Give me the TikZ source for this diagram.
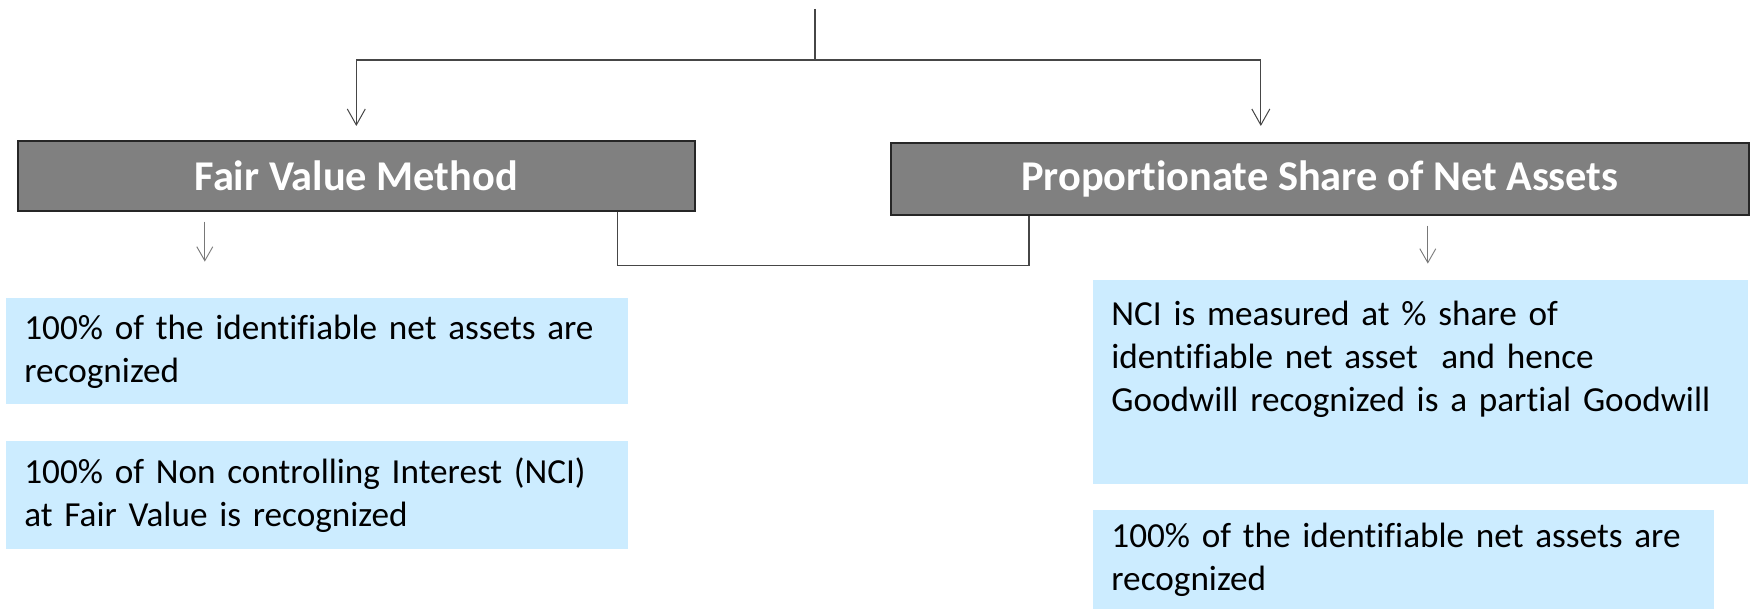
\documentclass[tikz,border=0pt]{standalone}
\usepackage{fontspec}
\setmainfont[Ligatures=NoCommon]{Carlito}
\usetikzlibrary{arrows.meta,positioning,calc}
\definecolor{hdrgray}{RGB}{128,128,128}
\definecolor{hdrline}{RGB}{38,38,38}
\definecolor{lblue}{RGB}{204,236,255}
\definecolor{conn}{RGB}{70,70,70}
\definecolor{conn2}{RGB}{120,120,120}
\tikzset{
  hdr/.style={draw=hdrline, line width=0.8bp, fill=hdrgray, text=white, font=\fontsize{21.2bp}{25bp}\selectfont\bfseries, inner sep=0pt, anchor=north west},
  infobox/.style={fill=lblue, font=\fontsize{17.6bp}{21.5bp}\selectfont, align=left, inner xsep=9bp, inner ysep=0pt, anchor=north west},
  conline/.style={draw=conn, line width=0.6bp},
  arr/.style={conline, -{Straight Barb[length=8bp,width=9bp,line width=0.5bp]}},
  arrsmall/.style={draw=conn2, line width=0.5bp, -{Straight Barb[length=7bp,width=8bp,line width=0.45bp]}}
}
\begin{document}
\begin{tikzpicture}[x=0.5bp,y=-0.5bp]
\useasboundingbox (0,0) rectangle (1754,609);
% header boxes
\node[hdr, minimum width=338.5bp, minimum height=35bp] (fv) at (17,140) {Fair Value Method};
\node[hdr, minimum width=429bp, minimum height=36bp] (ps) at (890,142) {Proportionate Share of Net Assets};
% info boxes
\node[infobox, text width=293bp, minimum width=311bp, minimum height=53bp] (b1) at (6,298)
  {\mbox{100\% of the identifiable net assets are}\\recognized};
\node[infobox, text width=293bp, minimum width=311bp, minimum height=54bp] (b2) at (6,441)
  {\mbox{100\% of Non controlling Interest (NCI)}\\at Fair Value is recognized};
\node[infobox, text width=309.5bp, minimum width=327.5bp, minimum height=102bp] (b3) at (1093,280)
  {NCI is measured at \% share of\\identifiable net asset\ \ and hence\\\mbox{Goodwill recognized is a partial Goodwill}\\[5bp]\mbox{}};
\node[infobox, text width=292.5bp, minimum width=310.5bp, minimum height=49.5bp] (b4) at (1093,510)
  {\mbox{100\% of the identifiable net assets are}\\recognized};
% top connectors
\coordinate (top) at (815,9);
\coordinate (jn) at (815,60);
\draw[conline] (top) -- (jn);
\draw[arr] (jn) -| ([yshift=7bp]fv.north);
\draw[arr] (jn) -| ([xshift=-29.5bp,yshift=8bp]ps.north);
% bottom connector between headers
\draw[conline] ([xshift=-39bp]fv.south east) -- ++(0,54) -| ([xshift=69.5bp]ps.south west);
% small arrows
\draw[arrsmall] ([xshift=-75.75bp,yshift=-5bp]fv.south) -- ++(0,40);
\draw[arrsmall] ([xshift=54bp,yshift=-5bp]ps.south) -- ++(0,38);
\end{tikzpicture}
\end{document}
